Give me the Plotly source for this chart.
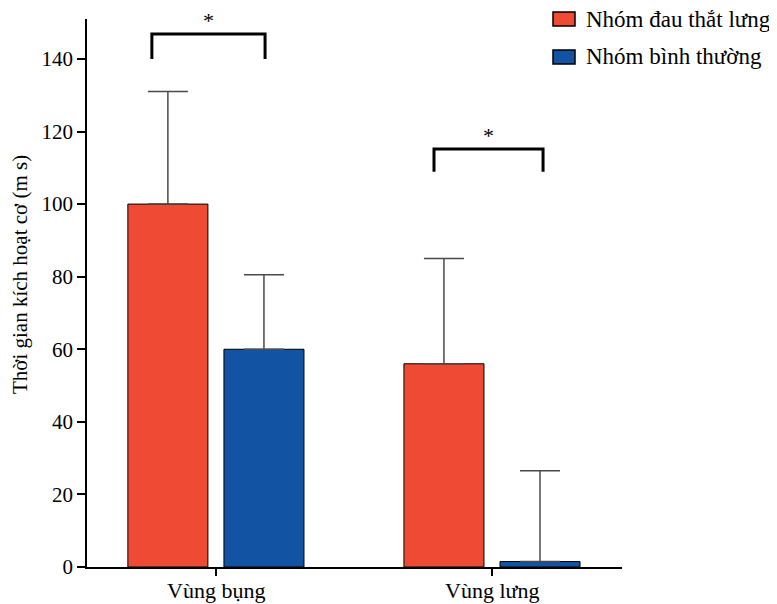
import plotly.graph_objects as go

categories = ["Vùng bụng", "Vùng lưng"]
group_names = ["Nhóm đau thắt lưng", "Nhóm bình thường"]
pain_means = [100, 56]
pain_sd = [31, 29]
normal_means = [60, 1.5]
normal_sd = [20.5, 25]
y_ticks = [0, 20, 40, 60, 80, 100, 120, 140]
y_title = "Thời gian kích hoạt cơ (m s)"
# significance brackets: (x_left, x_right, y_top, y_bottom) in category units / data units
brackets = [(-0.232, 0.178, 146.9, 140.0), (0.79, 1.185, 115.2, 108.9)]

RED = "#EF4A33"
BLUE = "#1253A4"
FONT = "Liberation Serif"

fig = go.Figure()
fig.add_trace(go.Bar(
    x=categories, y=pain_means, name=group_names[0],
    marker=dict(color=RED, line=dict(color="black", width=1)),
    error_y=dict(type="data", array=pain_sd, symmetric=False, arrayminus=[0, 0],
                 color="#4a4a4a", thickness=1.5, width=20),
    showlegend=False,
))
fig.add_trace(go.Bar(
    x=categories, y=normal_means, name=group_names[1],
    marker=dict(color=BLUE, line=dict(color="black", width=1)),
    error_y=dict(type="data", array=normal_sd, symmetric=False, arrayminus=[0, 0],
                 color="#4a4a4a", thickness=1.5, width=20),
    showlegend=False,
))

# page offset of the figure (browser body margin)
OFF = 8
W, H = 777 - OFF, 604 - OFF
# plot area in page pixels: left 87, right 622, top 19, bottom 567
L, T = 87 - OFF, 19 - OFF
R = W - (622 - OFF)
B = H - (567 - OFF)
pw, ph = W - L - R, H - T - B

def px(x):
    return (x - OFF - L) / pw

def py(y):
    return (H - B - (y - OFF)) / ph

shapes = []
annotations = []
for (xl, xr, yt, yb) in brackets:
    shapes.append(dict(type="path", xref="x", yref="y",
                       path=f"M {xl},{yb} L {xl},{yt} L {xr},{yt} L {xr},{yb}",
                       line=dict(color="black", width=3)))
    annotations.append(dict(x=(xl + xr) / 2, y=yt, xref="x", yref="y",
                            text="*", showarrow=False, yanchor="middle", yshift=13,
                            font=dict(family=FONT, size=22, color="black")))

# category labels under the axis
for c in categories:
    annotations.append(dict(x=c, y=py(590), xref="x", yref="paper", text=c,
                            showarrow=False, xanchor="center", yanchor="middle",
                            font=dict(family=FONT, size=22, color="black")))

# y axis title
annotations.append(dict(x=px(20), y=py(275), xref="paper", yref="paper", text=y_title,
                        textangle=-90, showarrow=False, xanchor="center", yanchor="middle",
                        font=dict(family=FONT, size=21, color="black")))

# legend drawn in paper space
leg_colors = [RED, BLUE]
leg_y = [19, 57]
for name, col, yy in zip(group_names, leg_colors, leg_y):
    shapes.append(dict(type="rect", xref="paper", yref="paper",
                       x0=px(553), x1=px(575), y0=py(yy - 7), y1=py(yy + 7),
                       fillcolor=col, line=dict(color="black", width=1.5)))
    annotations.append(dict(x=px(584), y=py(yy), xref="paper", yref="paper",
                            text=name, showarrow=False, xanchor="left", yanchor="middle",
                            font=dict(family=FONT, size=23, color="black")))

fig.update_layout(
    width=W, height=H,
    margin=dict(l=L, r=R, t=T, b=B, autoexpand=False),
    paper_bgcolor="white", plot_bgcolor="white",
    barmode="group", bargap=0.304, bargroupgap=0.167,
    font=dict(family=FONT, size=17, color="black"),
    shapes=shapes, annotations=annotations,
    xaxis=dict(range=[-0.467, 1.471], showline=True, linecolor="black", linewidth=1.5,
               ticks="outside", ticklen=7, tickwidth=1.5, tickcolor="black",
               showticklabels=False,
               showgrid=False, zeroline=False, automargin=False),
    yaxis=dict(range=[0, 151], tickvals=y_ticks, showline=True, linecolor="black",
               linewidth=1.5, ticks="outside", ticklen=8, tickwidth=1.5, tickcolor="black",
               showgrid=False, zeroline=False, automargin=False,
               tickfont=dict(family=FONT, size=21)),
)

fig.write_html("out.html")
